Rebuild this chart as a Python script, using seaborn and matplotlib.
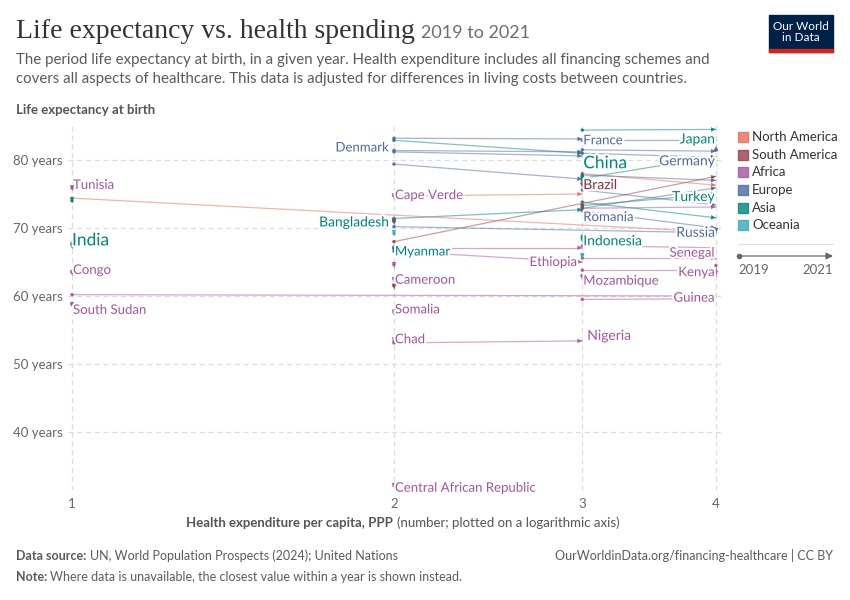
import numpy as np
import pandas as pd
import matplotlib.pyplot as plt
import matplotlib.patheffects as pe
from matplotlib.patches import Rectangle, FancyArrowPatch
from matplotlib.ticker import NullLocator
import seaborn as sns

sns.set_style("white")
plt.rcParams['font.family'] = ['Lato', 'DejaVu Sans']

# one row per country: spending category and life expectancy, 2019 -> 2021
countries = ["Tunisia", "Country 01", "India", "Congo", "South Sudan", "Country 02", "Country 03",
             "Country 04", "Country 05", "Denmark", "Country 06", "Country 07",
             "Cape Verde", "Country 08", "Bangladesh", "Country 09", "Country 10", "Country 11",
             "Country 12", "Country 13", "Myanmar", "Country 14", "Ethiopia", "Country 15",
             "Cameroon", "Country 16", "Somalia", "Chad", "Nigeria", "Central African Republic",
             "Japan", "France", "Country 17", "Germany", "Country 18", "China", "Country 19",
             "Country 20", "Brazil", "Country 21", "Country 22", "Turkey", "Country 23",
             "Country 24", "Romania", "Country 25", "Indonesia", "Country 26", "Senegal",
             "Country 27", "Kenya", "Mozambique", "Country 28", "Guinea", "Country 29", "Russia"]
continents = ["Africa", "Asia", "Asia", "Africa", "Africa", "North America", "Africa",
              "Europe", "Asia", "Europe", "Europe", "Europe",
              "Africa", "North America", "Asia", "Asia", "South America", "Europe",
              "Oceania", "South America", "Asia", "Africa", "Africa", "Africa",
              "Africa", "South America", "Africa", "Africa", "Africa", "Africa",
              "Asia", "Europe", "Europe", "Europe", "Asia", "Asia", "North America",
              "Europe", "South America", "Europe", "Europe", "Asia", "Asia",
              "Africa", "Europe", "South America", "Asia", "Oceania", "Africa",
              "Africa", "Africa", "Africa", "Africa", "Africa", "Europe", "Europe"]
spend_2019 = [1, 1, 1, 1, 1, 1, 1,
              2, 2, 2, 2, 2,
              2, 2, 2, 2, 2, 2,
              2, 2, 2, 2, 2, 2,
              2, 2, 2, 2, 2, 2,
              3, 3, 3, 3, 3, 3, 3,
              3, 3, 3, 3, 3, 3,
              3, 3, 3, 3, 3, 3,
              3, 3, 3, 4, 3, 4, 4]
spend_2021 = [1, 1, 1, 1, 1, 4, 4,
              3, 3, 3, 3, 3,
              2, 3, 3, 2, 2, 4,
              2, 4, 2, 3, 3, 2,
              2, 2, 2, 2, 3, 2,
              4, 4, 4, 4, 4, 3, 4,
              4, 3, 4, 4, 4, 4,
              4, 4, 3, 3, 3, 4,
              4, 4, 3, 4, 4, 4, 4]
life_2019 = [75.9, 74.0, 67.8, 63.5, 58.8, 74.4, 60.2,
             83.2, 82.9, 81.4, 81.2, 79.4,
             74.8, 74.7, 71.4, 71.0, 71.0, 70.2,
             69.2, 68.0, 67.2, 67.1, 66.6, 64.6,
             62.5, 61.5, 57.6, 53.4, 53.1, 32.1,
             84.4, 82.9, 81.5, 81.0, 77.3, 77.0, 78.0,
             77.8, 76.6, 75.6, 72.9, 73.3, 73.8,
             72.9, 72.5, 73.0, 68.8, 66.0, 67.4,
             65.6, 63.8, 63.0, 64.5, 59.5, 81.5, 69.8]
life_2021 = [75.6, 73.8, 67.0, 63.1, 58.4, 69.4, 60.0,
             83.1, 81.0, 81.2, 80.6, 77.2,
             74.4, 75.0, 72.7, 70.7, 70.6, 69.3,
             69.0, 77.6, 66.4, 67.1, 65.0, 64.3,
             62.1, 61.1, 57.3, 53.2, 53.4, 31.8,
             84.5, 82.9, 81.3, 80.4, 80.5, 78.2, 76.3,
             77.0, 75.9, 73.4, 75.9, 75.0, 71.5,
             73.1, 70.0, 72.8, 67.9, 65.6, 67.1,
             65.6, 63.8, 62.4, 63.0, 59.6, 82.0, 69.3]

continent_order = ["North America", "South America", "Africa", "Europe", "Asia", "Oceania"]
line_colors = {"North America": "#E56E5A", "South America": "#9A3E4A", "Africa": "#A2559C",
               "Europe": "#4C6A9C", "Asia": "#00847E", "Oceania": "#38AABA"}
text_colors = {"North America": "#C9503D", "South America": "#8B2E3A", "Africa": "#A2559C",
               "Europe": "#4C6A9C", "Asia": "#00847E", "Oceania": "#2E94A3"}

# label placement: (anchor, ha, dx px, dy px, fontsize)
label_spec = {
    "Tunisia": ("start", "left", 1, 3, 9.5),
    "India": ("end", "left", 0, 8, 12.5),
    "Congo": ("end", "left", 1, 5, 9.5),
    "South Sudan": ("end", "left", 1, -3, 9.5),
    "Denmark": ("start", "right", -5, 3, 9.5),
    "Cape Verde": ("end", "left", 1, 3, 9.5),
    "Bangladesh": ("start", "right", -5, -4, 10),
    "Myanmar": ("end", "left", 1, 1, 9.5),
    "Cameroon": ("end", "left", 1, 2, 9.5),
    "Somalia": ("end", "left", 1, 5, 9.5),
    "Chad": ("end", "left", 1, 3, 9.5),
    "Central African Republic": ("end", "left", 1, 0, 9.5),
    "Nigeria": ("end", "left", 5, 5, 10),
    "Japan": ("end", "right", -1, -10, 10),
    "France": ("start", "left", 1, 0, 9.5),
    "Germany": ("end", "right", -1, -4, 10),
    "China": ("end", "left", 1, 9, 12.5),
    "Brazil": ("start", "left", 1, -2, 10),
    "Turkey": ("end", "right", -1, -3, 10),
    "Romania": ("start", "left", 1, -6, 9.5),
    "Russia": ("end", "right", -1, 0, 10),
    "Indonesia": ("end", "left", 1, 1, 10),
    "Senegal": ("end", "right", -1, -5, 9.5),
    "Ethiopia": ("end", "right", -5, 0, 9.5),
    "Kenya": ("end", "right", -1, -2, 9.5),
    "Mozambique": ("end", "left", 1, -1, 9.5),
    "Guinea": ("end", "right", -1, 1, 9.5),
}

wide = pd.DataFrame({"country": countries, "continent": continents,
                     "spend_2019": spend_2019, "spend_2021": spend_2021,
                     "life_2019": life_2019, "life_2021": life_2021})
long = pd.concat([
    pd.DataFrame({"country": countries, "continent": continents, "year": 2019,
                  "spend": spend_2019, "life": life_2019}),
    pd.DataFrame({"country": countries, "continent": continents, "year": 2021,
                  "spend": spend_2021, "life": life_2021}),
]).sort_values(["country", "year"])

fig = plt.figure(figsize=(8.5, 6), dpi=100)
ax = fig.add_axes([68 / 850, 1 - 490 / 600, 654 / 850, 365 / 600])
ax.set_xscale("log")

sns.lineplot(data=long, x="spend", y="life", hue="continent", units="country",
             estimator=None, sort=False, palette=line_colors, linewidth=0.9,
             alpha=0.5, legend=False, ax=ax)
sns.scatterplot(data=wide, x="spend_2019", y="life_2019", hue="continent",
                palette=line_colors, s=6, linewidth=0, alpha=0.9, legend=False, ax=ax)

for _, r in wide.iterrows():
    c = line_colors[r["continent"]]
    if r["spend_2019"] == r["spend_2021"] and r["life_2019"] == r["life_2021"]:
        continue
    ax.annotate("", xy=(r["spend_2021"], r["life_2021"]),
                xytext=(r["spend_2019"], r["life_2019"]),
                arrowprops=dict(arrowstyle="-|>,head_length=0.35,head_width=0.16",
                                color=c, lw=0, shrinkA=0, shrinkB=0, alpha=0.9))

halo = [pe.withStroke(linewidth=3, foreground="white")]
for _, r in wide.iterrows():
    if r["country"] not in label_spec:
        continue
    anchor, ha, dx, dy, fs = label_spec[r["country"]]
    if anchor == "start":
        px, py = r["spend_2019"], r["life_2019"]
    else:
        px, py = r["spend_2021"], r["life_2021"]
    ax.annotate(r["country"], xy=(px, py), xytext=(dx, dy), textcoords="offset pixels",
                ha=ha, va="center", fontsize=fs, color=text_colors[r["continent"]],
                path_effects=halo)

ax.set_xlim(0.9914, 4.053)
ax.set_ylim(31.47, 85.15)
ax.xaxis.set_minor_locator(NullLocator())
ax.set_xticks([1, 2, 3, 4])
ax.set_xticklabels(["1", "2", "3", "4"])
ax.set_yticks([40, 50, 60, 70, 80])
ax.set_yticklabels([f"{v} years" for v in [40, 50, 60, 70, 80]])
ax.tick_params(axis="both", length=0, labelsize=9.5, labelcolor="#666666")
ax.tick_params(axis="x", pad=6)
ax.tick_params(axis="y", pad=4)
ax.grid(True, linestyle=(0, (4, 3)), color="#dddddd", linewidth=0.9)
ax.set_axisbelow(True)
for s in ax.spines.values():
    s.set_visible(False)
ax.set_xlabel("")
ax.set_ylabel("")

# titles
title = fig.text(16 / 850, 1 - 31 / 600, "Life expectancy vs. health spending", fontsize=20,
                 family=["Liberation Serif", "DejaVu Serif"], color="#333333", va="center")
fig.canvas.draw()
title_end = title.get_window_extent().x1 / 850
fig.text(title_end + 6 / 850, 1 - 33 / 600, "2019 to 2021", fontsize=13, color="#6e6e6e",
         va="center")
fig.text(16 / 850, 1 - 60 / 600, "The period life expectancy at birth, in a given year. Health expenditure includes all financing schemes and",
         fontsize=10.8, color="#5b5b5b", va="center")
fig.text(16 / 850, 1 - 79 / 600, "covers all aspects of healthcare. This data is adjusted for differences in living costs between countries.",
         fontsize=10.8, color="#5b5b5b", va="center")
fig.text(16 / 850, 1 - 110 / 600, "Life expectancy at birth", fontsize=9.5, color="#555555",
         va="center", fontweight="bold")

# logo
fig.patches.append(Rectangle((769 / 850, 1 - 52 / 600), 64 / 850, 37 / 600,
                             transform=fig.transFigure, color="#002147"))
fig.patches.append(Rectangle((769 / 850, 1 - 52 / 600), 64 / 850, 3 / 600,
                             transform=fig.transFigure, color="#CE261E"))
fig.text(801 / 850, 1 - 32 / 600, "Our World\nin Data", fontsize=8.5, color="white",
         ha="center", va="center", linespacing=1.1)

# legend
legend_y = [137, 155, 172, 190, 208, 225]
for name, y in zip(continent_order, legend_y):
    fig.patches.append(Rectangle((738 / 850, 1 - (y + 5) / 600), 10 / 850, 10 / 600,
                                 transform=fig.transFigure, color=line_colors[name], alpha=0.8))
    fig.text(752 / 850, 1 - y / 600, name, fontsize=9.5, color="#333333", va="center")
fig.add_artist(plt.Line2D([738 / 850, 833 / 850], [1 - 244 / 600, 1 - 244 / 600],
                          color="#dddddd", lw=0.8, transform=fig.transFigure))
fig.add_artist(plt.Line2D([739 / 850], [1 - 256 / 600], marker="o", ms=3,
                          color="#666666", transform=fig.transFigure))
fig.patches.append(FancyArrowPatch(
    (739 / 850, 1 - 256 / 600), (833 / 850, 1 - 256 / 600), transform=fig.transFigure,
    arrowstyle="-|>,head_length=0.4,head_width=0.2", color="#666666", lw=0.9,
    shrinkA=0, shrinkB=0, mutation_scale=10))
fig.text(738 / 850, 1 - 270 / 600, "2019", fontsize=9.5, color="#666666", va="center")
fig.text(833 / 850, 1 - 270 / 600, "2021", fontsize=9.5, color="#666666", va="center", ha="right")

# x axis title
fig.text(393 / 850, 1 - 523 / 600, "Health expenditure per capita, PPP", fontsize=9.5,
         color="#555555", fontweight="bold", ha="right", va="center")
fig.text(397 / 850, 1 - 523 / 600, "(number; plotted on a logarithmic axis)", fontsize=9.5,
         color="#555555", ha="left", va="center")

# footer
fig.text(16 / 850, 1 - 556 / 600, "Data source:", fontsize=9, color="#5b5b5b",
         fontweight="bold", va="center")
fig.text(90 / 850, 1 - 556 / 600, "UN, World Population Prospects (2024); United Nations",
         fontsize=9, color="#5b5b5b", va="center")
fig.text(833 / 850, 1 - 556 / 600, "OurWorldinData.org/financing-healthcare | CC BY",
         fontsize=9, color="#5b5b5b", va="center", ha="right")
fig.text(16 / 850, 1 - 577 / 600, "Note:", fontsize=9, color="#5b5b5b",
         fontweight="bold", va="center")
fig.text(50 / 850, 1 - 577 / 600, "Where data is unavailable, the closest value within a year is shown instead.",
         fontsize=9, color="#5b5b5b", va="center")

fig.savefig("out.png", dpi=100, facecolor="white")
